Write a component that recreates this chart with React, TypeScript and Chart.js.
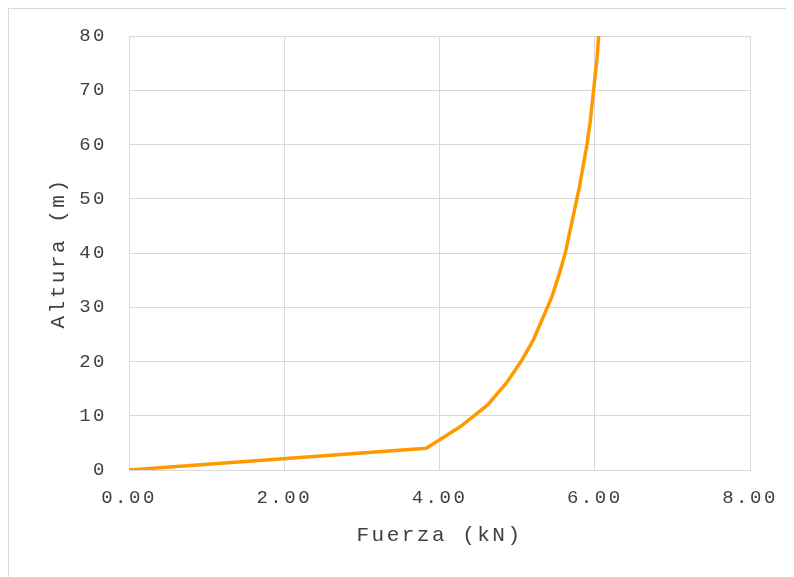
import React, { useEffect, useRef } from "react";
import { Chart, registerables } from "chart.js";

Chart.register(...registerables);

const heights = [0, 4, 8, 12, 16, 20, 24, 28, 32, 36, 40, 44, 48, 52, 56, 60, 64, 68, 72, 76, 80];
const forces = [0, 3.83, 4.27, 4.62, 4.86, 5.05, 5.21, 5.33, 5.45, 5.54, 5.62, 5.68, 5.74, 5.8, 5.85, 5.9, 5.94, 5.97, 6.0, 6.03, 6.05];
const xTitle = "Fuerza (kN)";
const yTitle = "Altura (m)";

const FONT = "'Liberation Mono', 'Courier New', monospace";

const spacingPlugin = {
  id: "letterSpacing",
  beforeUpdate(chart: any) {
    (chart.ctx as any).letterSpacing = "2.5px";
  },
  beforeDraw(chart: any) {
    (chart.ctx as any).letterSpacing = "2.5px";
  },
};

export default function App() {
  const ref = useRef<HTMLCanvasElement | null>(null);
  useEffect(() => {
    if (!ref.current) return;
    const data = heights.map((h, i) => ({ x: forces[i], y: h }));
    const chart = new Chart(ref.current, {
      type: "scatter",
      data: {
        datasets: [
          {
            data,
            showLine: true,
            borderColor: "#FF9900",
            backgroundColor: "#FF9900",
            borderWidth: 3.5,
            pointRadius: 0,
            tension: 0,
          },
        ],
      },
      options: {
        responsive: false,
        animation: false,
        layout: { padding: { left: 0, top: 27, right: 43, bottom: 0 } },
        plugins: { legend: { display: false }, tooltip: { enabled: false } },
        scales: {
          x: {
            type: "linear",
            min: 0,
            max: 8,
            ticks: {
              stepSize: 2,
              padding: 0,
              color: "#404040",
              font: { family: FONT, size: 19 },
              callback: (v: any) => Number(v).toFixed(2),
            },
            grid: {
              color: "#d9d9d9",
              lineWidth: 1,
              drawTicks: true,
              tickLength: 17,
              tickColor: "rgba(0,0,0,0)",
            },
            border: { color: "#d9d9d9" },
            title: {
              display: true,
              text: xTitle,
              color: "#404040",
              font: { family: FONT, size: 21 },
              padding: { top: 0, bottom: 29 },
            },
            afterFit: (s: any) => {
              s.height = 107;
            },
          },
          y: {
            type: "linear",
            min: 0,
            max: 80,
            ticks: {
              stepSize: 10,
              padding: 0,
              color: "#404040",
              font: { family: FONT, size: 19 },
            },
            grid: {
              color: "#d9d9d9",
              lineWidth: 1,
              drawTicks: true,
              tickLength: 22,
              tickColor: "rgba(0,0,0,0)",
            },
            border: { color: "#d9d9d9" },
            title: {
              display: true,
              text: yTitle,
              color: "#404040",
              font: { family: FONT, size: 21 },
              padding: { top: 37, bottom: 0 },
            },
            afterFit: (s: any) => {
              s.width = 120;
            },
          },
        },
      },
      plugins: [spacingPlugin],
    });
    return () => chart.destroy();
  }, []);

  return (
    <div
      style={{
        width: 784,
        height: 568,
        border: "1px solid #d9d9d9",
        boxSizing: "content-box",
        background: "#fff",
      }}
    >
      <canvas ref={ref} width={784} height={568} style={{ display: "block" }} />
    </div>
  );
}
